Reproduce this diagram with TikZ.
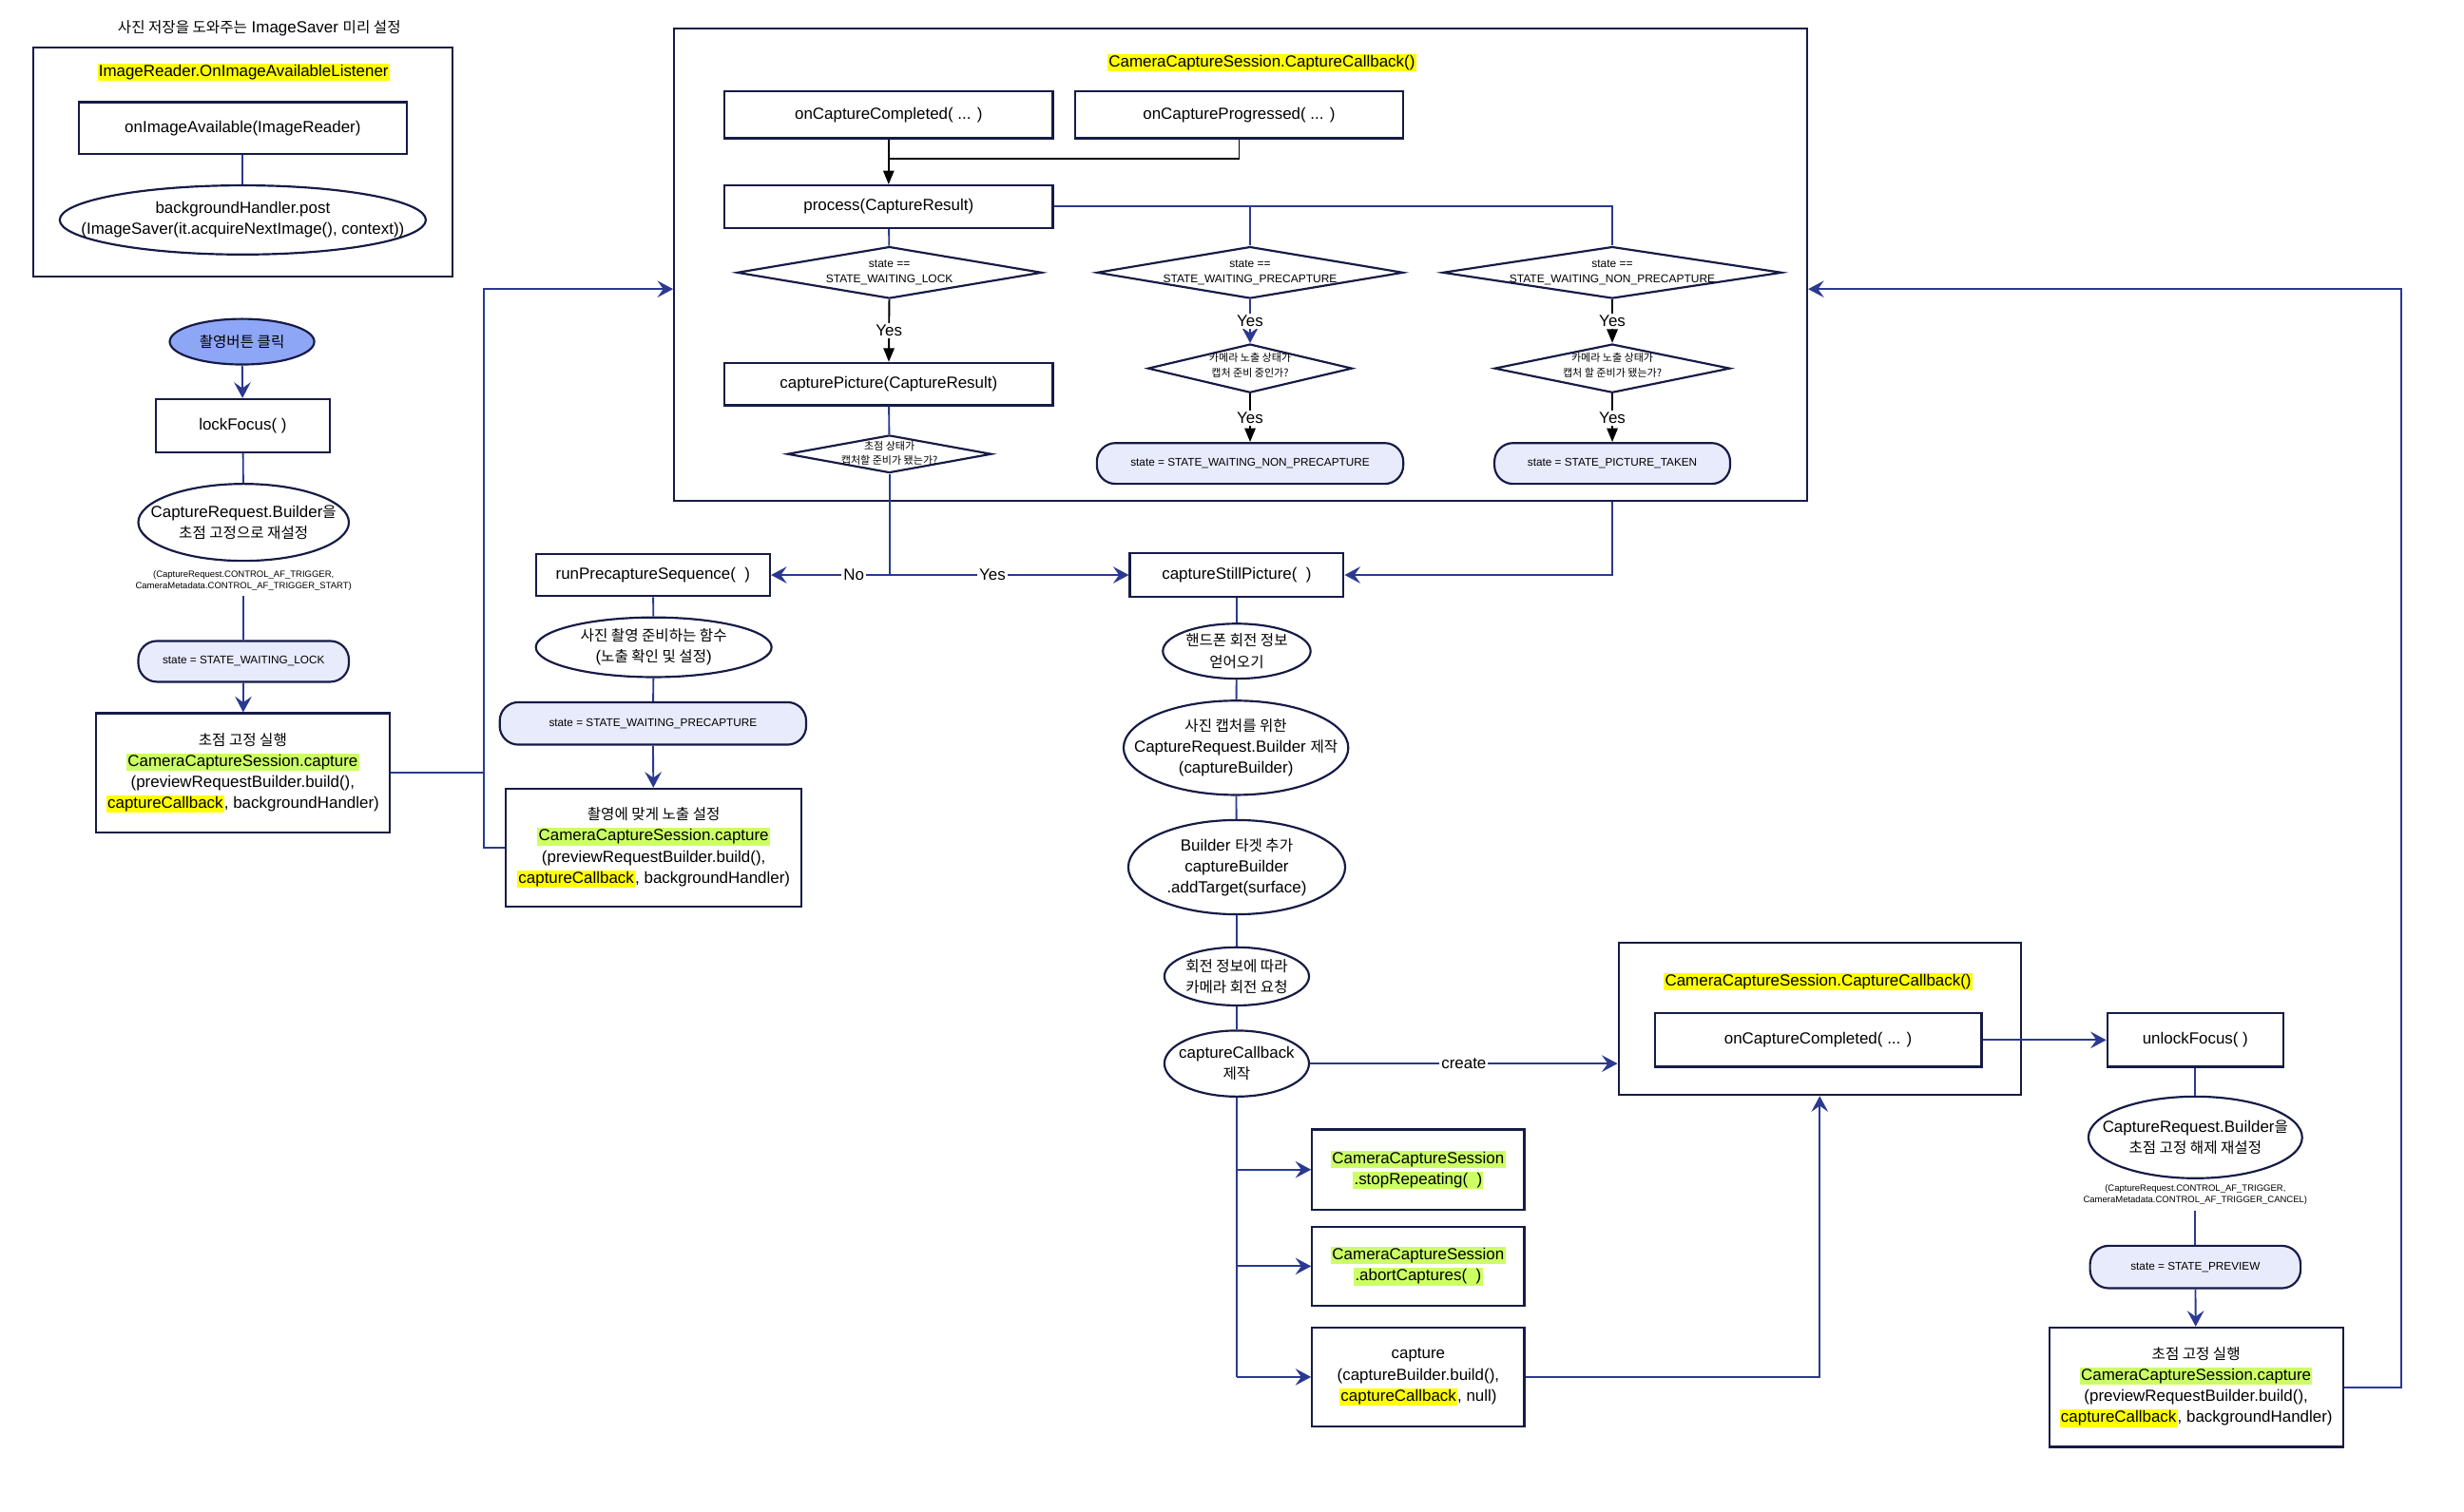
\documentclass[tikz,border=0pt]{standalone}
\usepackage{fontspec}
\setmainfont{Liberation Sans}
\newfontfamily\krf[Scale=0.92]{Noto Sans CJK KR}
\usetikzlibrary{shapes.geometric,arrows.meta}
\newcommand\kr[1]{{\krf #1}}
\newcommand\hl[2]{{\setlength\fboxsep{0.6pt}\colorbox{#1}{\vphantom{Ag(}#2}}}
\definecolor{ln}{HTML}{2B3990}
\definecolor{bd}{HTML}{161B46}
\definecolor{stf}{HTML}{E8EBFC}
\definecolor{btn}{HTML}{8EA6F6}
\definecolor{hlg}{HTML}{CCFF66}
\definecolor{hly}{HTML}{FFFF00}
\tikzset{
  base/.style={inner sep=0pt, align=center, font=\fontsize{8.2}{10.7}\selectfont, text=black},
  wh/.style 2 args={minimum width=#1*0.8pt, minimum height=#2*0.8pt},
  box/.style={base, draw=bd, line width=1.05pt, rectangle},
  ell/.style={draw=bd, line width=1.05pt, ellipse, inner sep=0pt},
  stbox/.style={base, draw=bd, line width=1.05pt, rounded corners=9.5pt, fill=stf, font=\fontsize{5.7}{7}\selectfont},
  dia/.style={draw=bd, line width=1.05pt, diamond, inner sep=0pt},
  dtext/.style={base, font=\fontsize{5.8}{7.4}\selectfont},
  tiny/.style={base, font=\fontsize{4.6}{5.8}\selectfont, outer sep=3pt},
  conn/.style={draw=ln, line width=0.9pt},
  arr/.style={conn, -{Stealth[length=8pt,width=8.5pt,inset=3pt]}},
  blk/.style={draw=black, line width=0.9pt},
  barr/.style={blk, -{Triangle[length=7pt,width=5.5pt]}},
  lbl/.style={base, fill=white, inner sep=1pt}
}
\begin{document}
\begin{tikzpicture}[x=0.8pt,y=-0.8pt]
\useasboundingbox (0,0) rectangle (1568,962);
\fill[white] (0,0) rectangle (1568,962);

% ---------- top-left ImageSaver group
\node[base] (t1) at (165,18) {\kr{사진 저장을 도와주는} ImageSaver \kr{미리 설정}};
\node[box, wh={267}{146}] (bA) at (154.5,103) {};
\node[base] (lA) at (155,46) {\hl{hly}{ImageReader.OnImageAvailableListener}};
\node[box, wh={209}{33}] (onImg) at (154.5,81.5) {onImageAvailable(ImageReader)};
\node[ell, wh={233}{44}] (bgH) at (154.5,140) {};
\node[base] (bgHt) at (bgH) {backgroundHandler.post\\(ImageSaver(it.acquireNextImage(), context))};
\draw[conn] (onImg) -- (bgH);

% ---------- left column
\node[ell, fill=btn, wh={92}{29}] (btn) at (154,217.5) {};
\node[base] (btnt) at (btn) {\kr{촬영버튼 클릭}};
\node[box, wh={111}{34}] (lock) at (154.5,271) {lockFocus( )};
\node[ell, wh={134}{49}] (crb1) at (155,332.5) {};
\node[base] (crb1t) at (crb1) {CaptureRequest.Builder\kr{을}\\\kr{초점 고정으로 재설정}};
\node[tiny] (tn1) at (155,369.5) {(CaptureRequest.CONTROL\_AF\_TRIGGER,\\CameraMetadata.CONTROL\_AF\_TRIGGER\_START)};
\node[stbox, wh={134}{26}] (st1) at (155,421) {state = STATE\_WAITING\_LOCK};
\node[box, wh={187}{76}] (cap1) at (154.5,492) {\kr{초점 고정 실행}\\\hl{hlg}{CameraCaptureSession.capture}\\(previewRequestBuilder.build(),\\\hl{hly}{captureCallback}, backgroundHandler)};
\draw[arr] (btn) -- (lock);
\draw[conn] (lock) -- (crb1);
\draw[conn] (tn1) -- (st1);
\draw[arr] (st1) -- (cap1);

% ---------- big callback box
\node[box, wh={721}{301}] (bB) at (789.5,168.5) {};
\node[base] (lB) at (803,40) {\hl{hly}{CameraCaptureSession.CaptureCallback()}};
\node[box, wh={209}{30}] (occ) at (565.5,73) {onCaptureCompleted( ... )};
\node[box, wh={209}{30}] (ocp) at (788.5,73) {onCaptureProgressed( ... )};
\node[box, wh={209}{27}] (proc) at (565.5,131.5) {process(CaptureResult)};
\coordinate (m1) at (565.5,101);
\draw[blk] (ocp.south) |- (m1);
\draw[barr] (occ) -- (proc);

\node[dia, wh={194}{33}] (d1) at (566,173.5) {};
\node[dtext] (d1t) at (566,173.5) {state ==\\STATE\_WAITING\_LOCK};
\node[dia, wh={195}{33}] (d2) at (795.5,173.5) {};
\node[dtext] (d2t) at (795.5,173.5) {state ==\\STATE\_WAITING\_PRECAPTURE};
\node[dia, wh={216}{33}] (d3) at (1026,173.5) {};
\node[dtext] (d3t) at (1026,173.5) {state ==\\STATE\_WAITING\_NON\_PRECAPTURE};
\coordinate (p2) at (795.5,131.5);
\coordinate (p3) at (1026,131.5);
\draw[conn] (proc) -- (d1);
\draw[conn] (proc.east) -- (p3) -- (d3.north);
\draw[conn] (p2) -- (d2.north);

\node[box, wh={209}{27}] (cpic) at (565.5,244.5) {capturePicture(CaptureResult)};
\node[dia, wh={130}{24}] (d1b) at (566,289) {};
\node[dtext] (d1bt) at (566,288.5) {\kr{초점 상태가}\\\kr{캡처할 준비가 됐는가?}};
\draw[barr] (d1) -- node[lbl]{Yes} (cpic);
\draw[conn] (cpic) -- (d1b);

\node[dia, wh={130}{31}] (d2b) at (795.5,234.5) {};
\node[dtext] (d2bt) at (795.5,232.5) {\kr{카메라 노출 상태가}\\\kr{캡처 준비 중인가?}};
\node[stbox, wh={195}{26}] (st2) at (795.5,295) {state = STATE\_WAITING\_NON\_PRECAPTURE};
\draw[arr] (d2) -- node[lbl]{Yes} (d2b);
\draw[barr] (d2b) -- node[lbl]{Yes} (st2);

\node[dia, wh={150}{31}] (d3b) at (1026,234.5) {};
\node[dtext] (d3bt) at (1026,232.5) {\kr{카메라 노출 상태가}\\\kr{캡처 할 준비가 됐는가?}};
\node[stbox, wh={150}{26}] (st3) at (1026,295) {state = STATE\_PICTURE\_TAKEN};
\draw[barr] (d3) -- node[lbl]{Yes} (d3b);
\draw[barr] (d3b) -- node[lbl]{Yes} (st3);

% ---------- precapture column
\node[box, wh={149}{27}] (rps) at (415.5,366) {runPrecaptureSequence(\ \ )};
\node[box, wh={136}{28}] (csp) at (787,366) {captureStillPicture(\ \ )};
\coordinate (n1) at (566,366);
\draw[conn] (d1b) -- (n1);
\draw[arr] (n1) -- node[lbl, pos=0.3]{No} (rps);
\draw[arr] (n1) -- node[lbl, pos=0.43]{Yes} (csp);
\coordinate (r1) at (1026,366);
\draw[arr] (bB.south -| r1) -- (r1) -- (csp.east);

\node[ell, wh={150}{38}] (e1) at (416,412) {};
\node[base] (e1t) at (e1) {\kr{사진 촬영 준비하는 함수}\\(\kr{노출 확인 및 설정})};
\node[stbox, wh={195}{27}] (st4) at (415.5,460.5) {state = STATE\_WAITING\_PRECAPTURE};
\node[box, wh={188}{75}] (cap2) at (416,539.5) {\kr{촬영에 맞게 노출 설정}\\\hl{hlg}{CameraCaptureSession.capture}\\(previewRequestBuilder.build(),\\\hl{hly}{captureCallback}, backgroundHandler)};
\draw[conn] (rps) -- (e1);
\draw[conn] (e1) -- (st4);
\draw[arr] (st4) -- (cap2);

% loop back to big box (left)
\coordinate (vx) at (308,184);
\coordinate (vb) at (308,539.5);
\draw[conn] (cap1.east) -- (cap1.east -| vx);
\draw[arr] (cap2.west) -- (vb) -- (vx) -- (bB.west |- vx);

% ---------- captureStillPicture column
\node[ell, wh={94}{35}] (e2) at (787,414.5) {};
\node[base] (e2t) at (e2) {\kr{핸드폰 회전 정보}\\\kr{얻어오기}};
\node[ell, wh={143}{60}] (e3) at (786.5,476) {};
\node[base] (e3t) at (e3) {\kr{사진 캡처를 위한}\\CaptureRequest.Builder \kr{제작}\\(captureBuilder)};
\node[ell, wh={138}{60}] (e4) at (787,552) {};
\node[base] (e4t) at (e4) {Builder \kr{타겟 추가}\\captureBuilder\\.addTarget(surface)};
\node[ell, wh={92}{37}] (e5) at (787,621.5) {};
\node[base] (e5t) at (e5) {\kr{회전 정보에 따라}\\\kr{카메라 회전 요청}};
\node[ell, wh={92}{42}] (e6) at (787,677) {};
\node[base] (e6t) at (e6) {captureCallback\\\kr{제작}};
\draw[conn] (csp) -- (e2);
\draw[conn] (e2) -- (e3);
\draw[conn] (e3) -- (e4);
\draw[conn] (e4) -- (e5);
\draw[conn] (e5) -- (e6);

\node[box, wh={135}{51}] (sr) at (902.5,744.5) {\hl{hlg}{CameraCaptureSession}\\\hl{hlg}{.stopRepeating(\ \ )}};
\node[box, wh={135}{50}] (ac) at (902.5,806) {\hl{hlg}{CameraCaptureSession}\\\hl{hlg}{.abortCaptures(\ \ )}};
\node[box, wh={135}{63}] (cp) at (902.5,876.5) {capture\\(captureBuilder.build(),\\\hl{hly}{captureCallback}, null)};
\coordinate (b0) at (787,876.5);
\draw[conn] (e6) -- (b0);
\draw[arr] (e6.south |- sr) -- (sr);
\draw[arr] (e6.south |- ac) -- (ac);
\draw[arr] (b0) -- (cp);

% ---------- second callback box
\node[box, wh={256}{97}] (bC) at (1158,648.5) {};
\node[base] (lC) at (1157,625) {\hl{hly}{CameraCaptureSession.CaptureCallback()}};
\node[box, wh={208}{34}] (occ2) at (1157,662) {onCaptureCompleted( ... )};
\node[box, wh={112}{34}] (unl) at (1397,662) {unlockFocus( )};
\draw[arr] (occ2) -- (unl);
\draw[arr] (e6.east) -- node[lbl]{create} (e6.east -| bC.west);
\draw[arr] (cp.east) -| (bC.south);

% ---------- right column
\node[ell, wh={136}{52}] (crb2) at (1397,724) {};
\node[base] (crb2t) at (crb2) {CaptureRequest.Builder\kr{을}\\\kr{초점 고정 해제 재설정}};
\node[tiny] (tn2) at (1397,760.5) {(CaptureRequest.CONTROL\_AF\_TRIGGER,\\CameraMetadata.CONTROL\_AF\_TRIGGER\_CANCEL)};
\node[stbox, wh={134}{27}] (st5) at (1397,806.5) {state = STATE\_PREVIEW};
\node[box, wh={187}{76}] (cap3) at (1397.5,883) {\kr{초점 고정 실행}\\\hl{hlg}{CameraCaptureSession.capture}\\(previewRequestBuilder.build(),\\\hl{hly}{captureCallback}, backgroundHandler)};
\draw[conn] (unl) -- (crb2);
\draw[conn] (tn2) -- (st5);
\draw[arr] (st5) -- (cap3);
\coordinate (rx1) at (1528,883);
\coordinate (rx2) at (1528,184);
\draw[arr] (cap3.east) -- (rx1) -- (rx2) -- (bB.east |- rx2);
\end{tikzpicture}
\end{document}
